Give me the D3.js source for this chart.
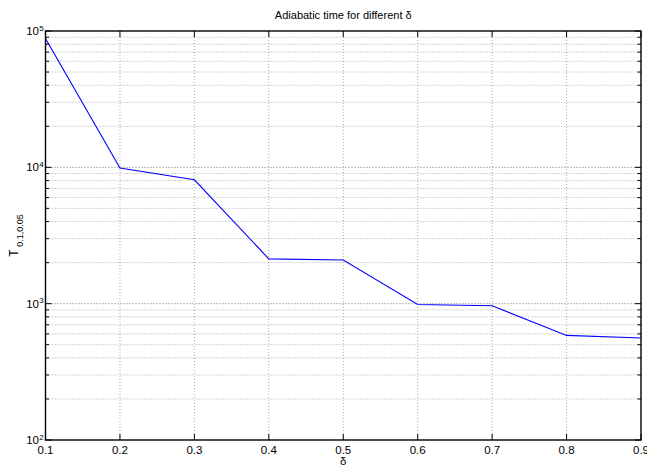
<!DOCTYPE html>
<html>
<head>
<meta charset="utf-8">
<script src="https://cdn.jsdelivr.net/npm/d3@7"></script>
<style>
  body { margin: 0; background: #fff; }
  text { font-family: "Liberation Sans Narrow", "Liberation Sans", Arial, sans-serif; fill: #000; }
</style>
</head>
<body>
<div id="chart"></div>
<script>
// values
var deltas = [0.1, 0.2, 0.3, 0.4, 0.5, 0.6, 0.7, 0.8, 0.9];
var times = [88000, 9900, 8100, 2130, 2090, 985, 965, 585, 560];
var xTicks = [0.1, 0.2, 0.3, 0.4, 0.5, 0.6, 0.7, 0.8, 0.9];
var yDecades = [2, 3, 4, 5];

var width = 647, height = 466;
var mLeft = 45.5, mRight = 641, mTop = 31, mBottom = 440;

var svg = d3.select("#chart").append("svg")
  .attr("width", width)
  .attr("height", height);

var x = d3.scaleLinear().domain([0.1, 0.9]).range([mLeft, mRight]);
var y = d3.scaleLog().domain([100, 100000]).range([mBottom, mTop]);

// minor values 2..9 in each decade
var minors = [];
yDecades.slice(0, -1).forEach(function(k) {
  for (var m = 2; m <= 9; m++) minors.push(m * Math.pow(10, k));
});
var majors = yDecades.map(function(k) { return Math.pow(10, k); });

var grid = svg.append("g");
grid.selectAll("line.ymin").data(minors).join("line")
  .attr("x1", mLeft).attr("x2", mRight)
  .attr("y1", d => y(d)).attr("y2", d => y(d))
  .attr("stroke", "#a8a8a8").attr("stroke-dasharray", "1,2");
grid.selectAll("line.ymaj").data(majors.slice(1, -1)).join("line")
  .attr("x1", mLeft).attr("x2", mRight)
  .attr("y1", d => y(d)).attr("y2", d => y(d))
  .attr("stroke", "#707070").attr("stroke-dasharray", "1,2");
grid.selectAll("line.xg").data(xTicks.slice(1, -1)).join("line")
  .attr("x1", d => x(d)).attr("x2", d => x(d))
  .attr("y1", mTop).attr("y2", mBottom)
  .attr("stroke", "#a8a8a8").attr("stroke-dasharray", "1,2");

// data line
var line = d3.line().x((d, i) => x(deltas[i])).y(d => y(d));
svg.append("path")
  .datum(times)
  .attr("d", line)
  .attr("fill", "none")
  .attr("stroke", "#0000ff")
  .attr("stroke-width", 1.1);

// ticks (inward, on all four sides)
var ticks = svg.append("g").attr("stroke", "#000").attr("stroke-width", 1);
xTicks.forEach(function(v) {
  ticks.append("line").attr("x1", x(v)).attr("x2", x(v)).attr("y1", mBottom).attr("y2", mBottom - 6);
  ticks.append("line").attr("x1", x(v)).attr("x2", x(v)).attr("y1", mTop).attr("y2", mTop + 6);
});
majors.forEach(function(v) {
  ticks.append("line").attr("x1", mLeft).attr("x2", mLeft + 6).attr("y1", y(v)).attr("y2", y(v));
  ticks.append("line").attr("x1", mRight).attr("x2", mRight - 6).attr("y1", y(v)).attr("y2", y(v));
});
minors.forEach(function(v) {
  ticks.append("line").attr("x1", mLeft).attr("x2", mLeft + 3.5).attr("y1", y(v)).attr("y2", y(v));
  ticks.append("line").attr("x1", mRight).attr("x2", mRight - 3.5).attr("y1", y(v)).attr("y2", y(v));
});

// box
svg.append("rect")
  .attr("x", mLeft).attr("y", mTop)
  .attr("width", mRight - mLeft).attr("height", mBottom - mTop)
  .attr("fill", "none").attr("stroke", "#000").attr("stroke-width", 1.4);

// x tick labels
svg.append("g").selectAll("text").data(xTicks).join("text")
  .attr("x", d => x(d)).attr("y", mBottom + 13.5)
  .attr("text-anchor", "middle")
  .style("font-size", "11.5px")
  .text(d => d3.format(".1f")(d));

// y tick labels 10^k
var yl = svg.append("g").selectAll("g").data(yDecades).join("g");
yl.append("text")
  .attr("x", 39).attr("y", d => y(Math.pow(10, d)) + 4)
  .attr("text-anchor", "end")
  .style("font-size", "11.5px")
  .text("10");
yl.append("text")
  .attr("x", 39.3).attr("y", d => y(Math.pow(10, d)) - 0.5)
  .style("font-size", "8px")
  .text(d => d);

// title
svg.append("text")
  .attr("x", (mLeft + mRight) / 2).attr("y", 19)
  .attr("text-anchor", "middle")
  .style("font-size", "11px")
  .text("Adiabatic time for different δ");

// x label
svg.append("text")
  .attr("x", (mLeft + mRight) / 2).attr("y", 465)
  .attr("text-anchor", "middle")
  .style("font-size", "11.5px")
  .text("δ");

// y label T_{0.1,0.05}
var ylab = svg.append("text")
  .attr("transform", "translate(18," + ((mTop + mBottom) / 2) + ") rotate(-90)")
  .attr("text-anchor", "middle");
ylab.append("tspan").style("font-size", "12px").text("T");
ylab.append("tspan").attr("dy", 5).style("font-size", "9px").text(" 0.1,0.05");
</script>
</body>
</html>
